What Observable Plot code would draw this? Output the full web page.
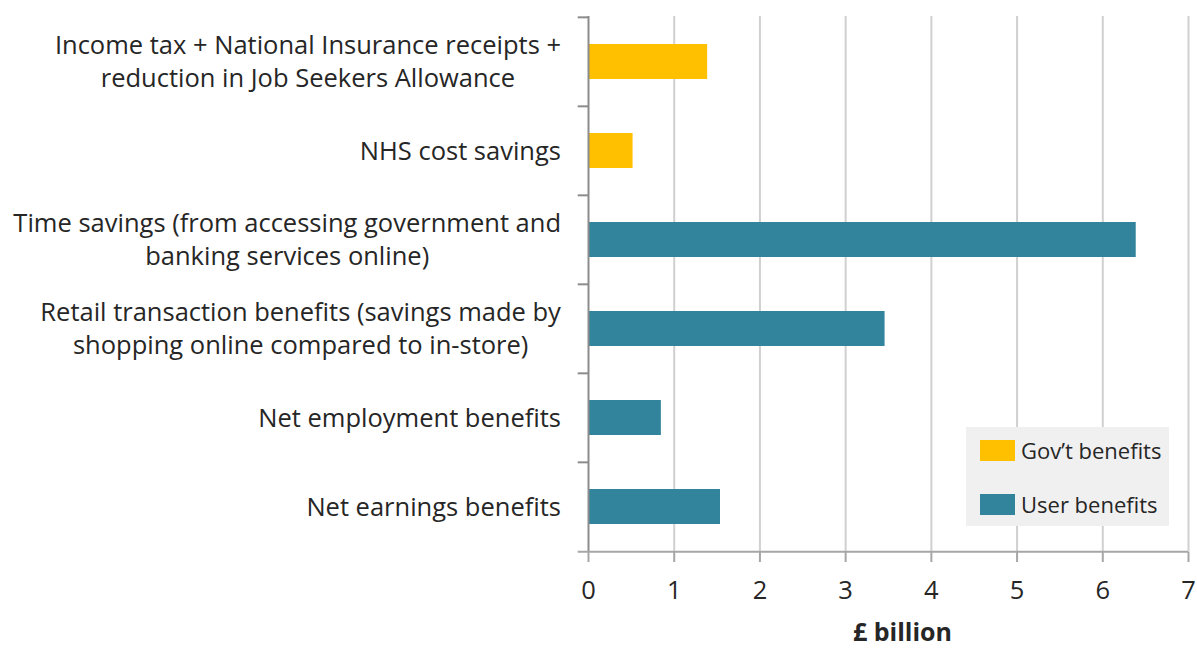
<!DOCTYPE html>
<html>
<head>
<meta charset="utf-8">
<script src="https://cdn.jsdelivr.net/npm/d3@7"></script>
<script src="https://cdn.jsdelivr.net/npm/@observablehq/plot@0.6"></script>
<style>
  body { margin: 0; background: #fff; }
  #wrap { position: relative; width: 1197px; height: 648px; overflow: hidden; font-family: "Open Sans", Lato, sans-serif; }
  #legend { position: absolute; left: 966px; top: 427px; width: 203px; height: 99px; background: #f0f0f0; }
  .item { position: absolute; left: 14px; display: flex; align-items: center; font-size: 22px; color: #262626; }
  .sw { width: 35px; height: 21px; margin-right: 6px; }
</style>
</head>
<body>
<div id="wrap"></div>
<script>
const categories = [
  "Income tax + National Insurance receipts +\nreduction in Job Seekers Allowance",
  "NHS cost savings",
  "Time savings (from accessing government and\nbanking services online)",
  "Retail transaction benefits (savings made by\nshopping online compared to in-store)",
  "Net employment benefits",
  "Net earnings benefits"
];
const values = [1.39, 0.52, 6.39, 3.46, 0.85, 1.54];
const groups = ["Gov’t benefits", "Gov’t benefits", "User benefits", "User benefits", "User benefits", "User benefits"];
const seriesNames = ["Gov’t benefits", "User benefits"];
const seriesColors = ["#FFC000", "#31849B"];
const xTicks = [0, 1, 2, 3, 4, 5, 6, 7];
const gridTicks = [1, 2, 3, 4, 5, 6, 7];
const xLabel = "£ billion";

const data = categories.map((c, i) => ({category: c, value: values[i], group: groups[i]}));

const W = 1197, H = 648;
const mTop = 16, mBottom = 96, mLeft = 588, mRight = 9;
const bw = (H - mTop - mBottom) / categories.length;
const FONT = "'Open Sans', Lato, sans-serif";
const FS = 25.5;

const chart = Plot.plot({
  width: W,
  height: H,
  marginTop: mTop,
  marginBottom: mBottom,
  marginLeft: mLeft,
  marginRight: mRight,
  style: {fontFamily: FONT, fontSize: FS + "px", color: "#262626", background: "transparent", overflow: "visible"},
  x: {domain: [0, 7], ticks: xTicks},
  y: {domain: categories, padding: 0},
  color: {domain: seriesNames, range: seriesColors},
  marks: [
    Plot.gridX(gridTicks, {stroke: "#d0d0d0", strokeOpacity: 1, strokeWidth: 2}),
    Plot.barX(data, {x: "value", y: "category", fill: "group", insetTop: 27, insetBottom: 27}),
    Plot.ruleX([0], {stroke: "#8c8c8c", strokeWidth: 2}),
    Plot.ruleY(categories, {y: d => d, x1: -0.12, x2: 0, dy: -bw / 2, stroke: "#8c8c8c", strokeWidth: 2}),
    Plot.ruleY([categories[categories.length - 1]], {y: d => d, x1: -0.12, x2: 7, dy: bw / 2, stroke: "#a6a6a6", strokeWidth: 2}),
    Plot.axisX({ticks: xTicks, tickFormat: d3.format("d"), tickSize: 10, tickPadding: 18, stroke: "#a6a6a6", strokeWidth: 2, fontSize: FS, label: null}),
    Plot.axisY({tickSize: 0, tickPadding: 27.5, fontSize: FS, lineHeight: 1.3, dy: -2, label: null}),
    Plot.text([xLabel], {frameAnchor: "bottom", dy: 88, dx: 14, text: d => d, fontSize: 25, fontWeight: "bold", fill: "#262626"})
  ]
});

const wrap = document.getElementById("wrap");
wrap.appendChild(chart);

// center multi-line labels within their block, block right-aligned
chart.querySelectorAll('g[aria-label="y-axis tick label"] text').forEach(t => {
  const w = t.getBBox().width;
  t.setAttribute("text-anchor", "middle");
  const tr = t.getAttribute("transform") || "";
  t.setAttribute("transform", tr + ` translate(${-w / 2},0)`);
});

const legend = document.createElement("div");
legend.id = "legend";
seriesNames.forEach((name, i) => {
  const item = document.createElement("div");
  item.className = "item";
  item.style.top = (i === 0 ? 8 : 62) + "px";
  const sw = document.createElement("div");
  sw.className = "sw";
  sw.style.background = seriesColors[i];
  const lab = document.createElement("span");
  lab.textContent = name;
  item.appendChild(sw);
  item.appendChild(lab);
  legend.appendChild(item);
});
wrap.appendChild(legend);
</script>
</body>
</html>
